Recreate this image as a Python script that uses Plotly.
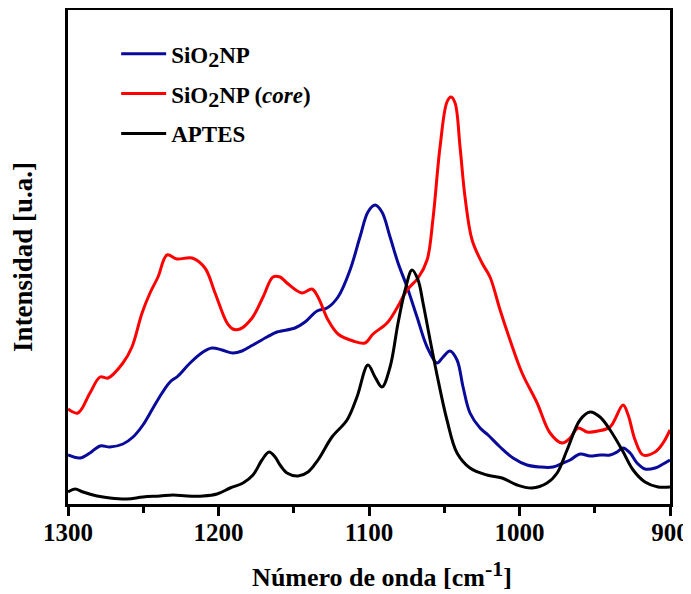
import plotly.graph_objects as go

# Wavenumber (cm^-1) and intensity (a.u.)
w_blue = [1300, 1292.0, 1285.4, 1278.7, 1272.1, 1263.5, 1256.8, 1250.2, 1243.5, 1237.5,
          1232.2, 1226.9, 1218.9, 1210.3, 1204.3, 1197.7, 1190.4, 1184.4, 1177.1, 1167.8,
          1161.1, 1149.2, 1142.5, 1134.5, 1127.9, 1120.6, 1112.6, 1106.0, 1100.7, 1096.0,
          1091.4, 1086.0, 1080.7, 1074.7, 1068.1, 1061.4, 1054.8, 1050.8, 1046.2, 1041.5,
          1037.5, 1032.9, 1026.2, 1020.9, 1012.9, 1004.3, 995.0, 986.3, 977.7, 971.1,
          966.4, 959.8, 953.1, 946.5, 939.8, 935.2, 931.2, 926.5, 921.9, 916.6,
          909.9, 904.6, 900]
i_blue = [49, 46, 51, 58, 57, 60, 67, 79, 96, 111,
          122, 128, 141, 152, 156, 154, 151, 153, 159, 167,
          172, 176, 182, 193, 196, 207, 234, 267, 292, 299,
          292, 267, 241, 217, 187, 157, 141, 147, 153, 144,
          117, 91, 76, 69, 57, 46, 39, 37, 37, 41,
          44, 50, 48, 49, 49, 52, 56, 51, 41, 35,
          36, 40, 44]

w_red = [1300, 1293.4, 1285.4, 1278.7, 1273.4, 1263.5, 1257.5, 1250.8, 1245.5, 1240.2,
         1234.2, 1227.6, 1217.6, 1209.0, 1202.3, 1194.3, 1190.4, 1185.7, 1177.7, 1170.4,
         1163.8, 1159.1, 1154.5, 1144.5, 1137.9, 1133.9, 1127.2, 1120.6, 1110.6, 1102.6,
         1097.3, 1088.0, 1081.4, 1074.7, 1067.4, 1061.4, 1057.5, 1052.8, 1048.2, 1045.5,
         1042.8, 1039.5, 1036.2, 1031.5, 1024.9, 1019.6, 1012.9, 1006.3, 998.3, 988.3,
         979.7, 971.7, 966.4, 961.1, 955.1, 947.8, 939.8, 931.2, 927.8, 923.2,
         917.9, 909.9, 904.6, 900]
i_red = [95, 91, 111, 127, 126, 141, 157, 191, 211, 227,
         249, 245, 246, 236, 211, 181, 175, 175, 186, 207,
         227, 227, 221, 211, 215, 207, 184, 170, 163, 161,
         170, 181, 196, 214, 226, 244, 285, 357, 402, 407,
         401, 357, 307, 264, 241, 227, 194, 164, 131, 101,
         71, 61, 66, 76, 72, 73, 77, 99, 89, 64,
         49, 52, 61, 74]

w_black = [1300, 1295.3, 1290, 1280.7, 1272.1, 1260.8, 1250.2, 1238.9, 1230.2, 1220.9,
           1210.3, 1201, 1192.3, 1183.7, 1177.1, 1171.1, 1166.4, 1162.4, 1159.1, 1154.5,
           1147.2, 1140.5, 1133.9, 1124.6, 1114.6, 1108, 1100.7, 1096, 1091.4, 1086,
           1080.7, 1076, 1071.4, 1067.4, 1064.1, 1059.4, 1054.8, 1048.2, 1041.5, 1032.9,
           1021.6, 1011.6, 1001.6, 991.7, 981.7, 975, 968.4, 959.8, 953.1, 946.5,
           939.8, 931.8, 924.5, 916.6, 907.9, 900]
i_black = [12, 15, 12, 8, 6, 5, 7, 8, 9, 8,
           8, 10, 16, 21, 29, 44, 52, 47, 39, 31,
           28, 32, 44, 67, 84, 107, 139, 127, 117, 137,
           181, 214, 234, 224, 201, 164, 129, 84, 51, 36,
           29, 26, 19, 16, 21, 31, 54, 84, 92, 87,
           74, 54, 34, 22, 17, 17]

tick_vals = [1300, 1200, 1100, 1000, 900]
tick_text = ["1300", "1200", "1100", "1000", "900"]

FONT = "Liberation Serif"
SUB2 = '<sub><span style="font-size:22px">2</span></sub>'

fig = go.Figure()
fig.add_trace(go.Scatter(x=w_blue, y=i_blue, mode="lines", line_shape="spline",
                         line=dict(color="#0a0a9a", width=3), legendgroup="a",
                         name="<b>SiO" + SUB2 + "NP</b>"))
fig.add_trace(go.Scatter(x=w_red, y=i_red, mode="lines", line_shape="spline",
                         line=dict(color="#ff0000", width=3), legendgroup="b",
                         name="<b>SiO" + SUB2 + "NP (<i>core</i>)</b>"))
fig.add_trace(go.Scatter(x=w_black, y=i_black, mode="lines", line_shape="spline",
                         line=dict(color="#000000", width=3), legendgroup="c",
                         name="<b>APTES</b>"))

# the page body adds an 8px offset, so the figure is 8px smaller than the window
fig.update_layout(
    width=683, height=586,
    margin=dict(l=60, r=21, t=2, b=90),
    plot_bgcolor="white", paper_bgcolor="white",
    font=dict(family=FONT, color="black", size=23),
    showlegend=True,
    legend=dict(x=0.08, y=0.955, xanchor="left", yanchor="top",
                bgcolor="rgba(0,0,0,0)", font=dict(family=FONT, size=23, color="black"),
                traceorder="grouped", tracegroupgap=7, itemwidth=45),
    xaxis=dict(range=[1300, 900], tickvals=tick_vals, ticktext=tick_text,
               ticks="outside", ticklen=9, tickwidth=2.5, tickcolor="black",
               minor=dict(dtick=50, ticks="outside", ticklen=6, tickwidth=2.5, tickcolor="black"),
               showline=True, linewidth=2.5, linecolor="black", mirror=True,
               showgrid=False, zeroline=False, automargin=False,
               ticklabelstandoff=-5,
               tickfont=dict(family=FONT, size=25, color="black", weight="bold"),
               title=dict(text='&nbsp;&nbsp;&nbsp;&nbsp;<b>Número de onda [cm<sup><span style="font-size:22px">-1</span></sup>]</b>',
                          font=dict(family=FONT, size=26, color="black"), standoff=24)),
    yaxis=dict(range=[0, 494], showticklabels=False, ticks="",
               showline=True, linewidth=2.5, linecolor="black", mirror=True,
               showgrid=False, zeroline=False, automargin=False,
               title=dict(text="<b>Intensidad [u.a.]</b>",
                          font=dict(family=FONT, size=27, color="black"), standoff=26)),
)

fig.write_html("out.html")
